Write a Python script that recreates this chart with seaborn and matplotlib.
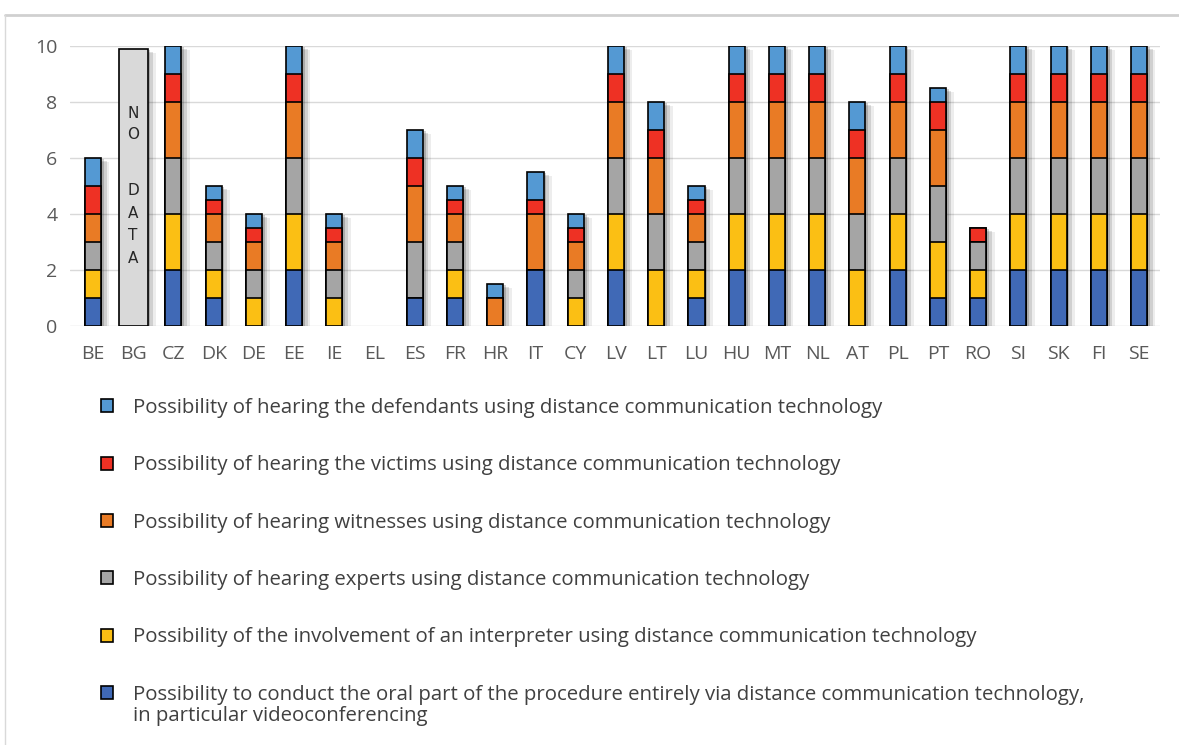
import numpy as np
import pandas as pd
import matplotlib
matplotlib.use('Agg')
import matplotlib.pyplot as plt
import matplotlib.patheffects as pe
from matplotlib.patches import Patch
from matplotlib.lines import Line2D
import seaborn as sns

# Data
countries = ['BE', 'BG', 'CZ', 'DK', 'DE', 'EE', 'IE', 'EL', 'ES', 'FR', 'HR', 'IT', 'CY', 'LV',
             'LT', 'LU', 'HU', 'MT', 'NL', 'AT', 'PL', 'PT', 'RO', 'SI', 'SK', 'FI', 'SE']
oral = [1, 0, 2, 1, 0, 2, 0, 0, 1, 1, 0, 2, 0, 2, 0, 1, 2, 2, 2, 0, 2, 1, 1, 2, 2, 2, 2]
interpreter = [1, 0, 2, 1, 1, 2, 1, 0, 0, 1, 0, 0, 1, 2, 2, 1, 2, 2, 2, 2, 2, 2, 1, 2, 2, 2, 2]
experts = [1, 0, 2, 1, 1, 2, 1, 0, 2, 1, 0, 0, 1, 2, 2, 1, 2, 2, 2, 2, 2, 2, 1, 2, 2, 2, 2]
witnesses = [1, 0, 2, 1, 1, 2, 1, 0, 2, 1, 1, 2, 1, 2, 2, 1, 2, 2, 2, 2, 2, 2, 0, 2, 2, 2, 2]
victims = [1, 0, 1, .5, .5, 1, .5, 0, 1, .5, 0, .5, .5, 1, 1, .5, 1, 1, 1, 1, 1, 1, .5, 1, 1, 1, 1]
defendants = [1, 0, 1, .5, .5, 1, .5, 0, 1, .5, .5, 1, .5, 1, 1, .5, 1, 1, 1, 1, 1, .5, 0, 1, 1, 1, 1]
no_data = [np.nan, 9.9] + [np.nan] * 25

labels = [
    'Possibility to conduct the oral part of the procedure entirely via distance communication technology,',
    'Possibility of the involvement of an interpreter using distance communication technology',
    'Possibility of hearing experts using distance communication technology',
    'Possibility of hearing witnesses using distance communication technology',
    'Possibility of hearing the victims using distance communication technology',
    'Possibility of hearing the defendants using distance communication technology',
]
label_tail = 'in particular videoconferencing'
colors = ['#4069B6', '#FBBF14', '#A5A5A5', '#E97B25', '#EE3124', '#5499D3']

sns.set_style('white')
plt.rcParams['font.family'] = ['Open Sans', 'DejaVu Sans']

fig = plt.figure(figsize=(11.79, 7.45), dpi=100)
ax = fig.add_axes([70 / 1179, 1 - 326 / 745, 1090 / 1179, 280 / 745])

df = pd.DataFrame({'country': countries, 'oral': oral, 'interpreter': interpreter,
                   'experts': experts, 'witnesses': witnesses, 'victims': victims,
                   'defendants': defendants})
layers = ['oral', 'interpreter', 'experts', 'witnesses', 'victims', 'defendants']
cum = df[layers].cumsum(axis=1).replace(0, np.nan)

# soft-ish drop shadow, built from a few offset copies
shadow = [pe.SimplePatchShadow(offset=(6, -3), shadow_rgbFace='black', alpha=0.07),
          pe.SimplePatchShadow(offset=(4, -2), shadow_rgbFace='black', alpha=0.12),
          pe.SimplePatchShadow(offset=(2, -1), shadow_rgbFace='black', alpha=0.18),
          pe.Normal()]

# stacked bars: draw the cumulative totals from the top layer down
for i in range(len(layers) - 1, -1, -1):
    n = len(ax.patches)
    sns.barplot(x=countries, y=cum[layers[i]].values, order=countries, color=colors[i],
                edgecolor='black', linewidth=1.2, width=0.4, errorbar=None,
                saturation=1, ax=ax)
    if i == len(layers) - 1:
        for p in ax.patches[n:]:
            p.set_path_effects(shadow)

# the "no data" box for BG
n = len(ax.patches)
sns.barplot(x=countries, y=no_data, order=countries, color='#D9D9D9', edgecolor='black',
            linewidth=1.2, width=0.72, errorbar=None, saturation=1, ax=ax)
for p in ax.patches[n:]:
    p.set_path_effects(shadow)
ax.text(1, 7.21, 'N\nO', ha='center', va='center', fontsize=11,
        color='#262626', linespacing=1.44, family='DejaVu Sans')
ax.text(1, 3.63, 'D\nA\nT\nA', ha='center', va='center', fontsize=11,
        color='#262626', linespacing=1.63, family='DejaVu Sans')

ax.set_ylim(0, 10)
ax.set_xlim(-0.57, 26.52)
ax.set_yticks([0, 2, 4, 6, 8, 10])
ax.yaxis.grid(True, color='#D9D9D9', linewidth=1)
ax.set_axisbelow(True)
for s in ax.spines.values():
    s.set_visible(False)
ax.tick_params(axis='both', length=0, labelsize=14, colors='#595959')
ax.tick_params(axis='x', pad=14)
ax.tick_params(axis='y', pad=9)

handles = [Patch(facecolor=c, edgecolor='black', linewidth=1.2) for c in colors]
fig.legend(handles[::-1], labels[::-1], loc='upper left',
           bbox_to_anchor=(101 / 1179, 1 - 398 / 745), frameon=False, fontsize=14.7,
           labelspacing=1.83, handlelength=0.6, handleheight=0.6, handletextpad=0.95,
           labelcolor='#404040', borderpad=0, borderaxespad=0)
fig.text(133 / 1179, 1 - 716 / 745, label_tail, ha='left', va='center', fontsize=14.7,
         color='#404040')

# chart frame
fig.add_artist(Line2D([5 / 1179, 1], [1 - 15 / 745, 1 - 15 / 745], color='#D0D0D0', lw=2))
fig.add_artist(Line2D([5 / 1179, 5 / 1179], [0, 1 - 15 / 745], color='#D9D9D9', lw=1))

fig.savefig('out.png', dpi=100)
